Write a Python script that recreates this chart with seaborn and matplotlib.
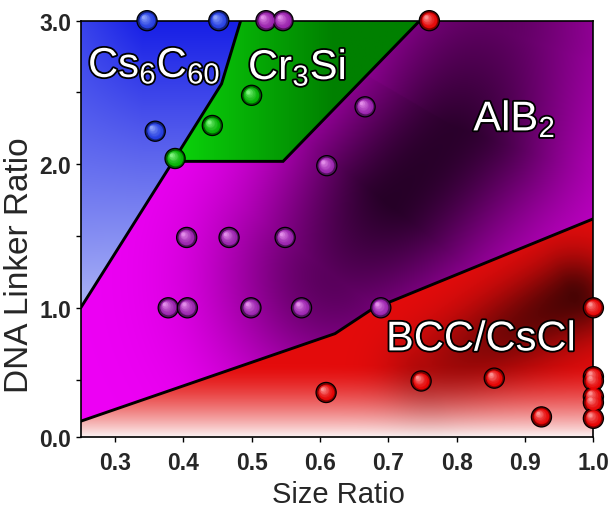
import numpy as np
import pandas as pd
import matplotlib
matplotlib.use("Agg")
import matplotlib.pyplot as plt
import seaborn as sns
from matplotlib.patches import Polygon
from matplotlib.transforms import offset_copy
import matplotlib.patheffects as pe

# ---------------- data ----------------
phases = ["Cs6C60", "Cr3Si", "AlB2", "BCC/CsCl"]

cs6c60_x = [0.347, 0.452, 0.359]
cs6c60_y = [3.0, 3.0, 2.23]
cr3si_x = [0.388, 0.4425, 0.500]
cr3si_y = [2.04, 2.27, 2.48]
alb2_x = [0.521, 0.546, 0.666, 0.610, 0.405, 0.467, 0.549, 0.378, 0.406, 0.499, 0.573, 0.689]
alb2_y = [3.0, 3.0, 2.40, 1.99, 1.49, 1.49, 1.49, 1.0, 1.0, 1.0, 1.0, 1.0]
bcc_x = [0.760, 1.0, 0.609, 0.748, 0.855, 0.924, 1.0, 1.0, 1.0, 1.0, 1.0]
bcc_y = [3.0, 1.0, 0.41, 0.49, 0.51, 0.24, 0.52, 0.49, 0.38, 0.34, 0.23]

# phase boundaries
cs_bound_x = [0.25, 0.385, 0.456, 0.484]
cs_bound_y = [1.0, 2.02, 2.56, 3.0]
cr_bound_x = [0.385, 0.546, 0.746]
cr_bound_y = [2.02, 2.02, 3.0]
bcc_bound_x = [0.25, 0.622, 0.676, 1.0]
bcc_bound_y = [0.21, 0.82, 0.99, 1.62]

x_ticks = [0.3, 0.4, 0.5, 0.6, 0.7, 0.8, 0.9, 1.0]
x_ticklabels = ["0.3", "0.4", "0.5", "0.6", "0.7", "0.8", "0.9", "1.0"]
y_ticks = [0.1, 1.0, 2.0, 3.0]
y_ticklabels = ["0.0", "1.0", "2.0", "3.0"]
y_minor = [0.5, 1.5, 2.5]
XMIN, XMAX, YMIN, YMAX = 0.25, 1.0, 0.1, 3.0

# ---------------- style ----------------
sns.set_style("ticks")
plt.rcParams['font.family'] = ['Liberation Sans', 'DejaVu Sans']
plt.rcParams['mathtext.default'] = 'regular'

fig = plt.figure(figsize=(6.13, 5.10), dpi=100)
ax = fig.add_axes([0.1317, 0.1412, 0.8363, 0.8163])
ax.set_xlim(XMIN, XMAX)
ax.set_ylim(YMIN, YMAX)

# ---------------- region gradient fills ----------------
xs = np.linspace(XMIN, XMAX, 700)
ys = np.linspace(YMIN, YMAX, 600)
X, Y = np.meshgrid(xs, ys)
U = (X - XMIN) / (XMAX - XMIN) * 512.6
V = (YMAX - Y) * 143.65


def to_uv(x, y):
    return (x - XMIN) / (XMAX - XMIN) * 512.6, (YMAX - y) * 143.65


def lerp(c1, c2, t):
    c1 = np.array(c1, float) / 255
    c2 = np.array(c2, float) / 255
    t = np.asarray(t)[..., None]
    return c1 + (c2 - c1) * t


def ridge_darkness(pts, amps, sd):
    """gaussian darkness around a shading ridge polyline (pixel-space distance)."""
    best = np.full(U.shape, np.inf)
    amp = np.zeros(U.shape)
    for (p0, p1, a0, a1) in zip(pts[:-1], pts[1:], amps[:-1], amps[1:]):
        u0, v0 = to_uv(*p0)
        u1, v1 = to_uv(*p1)
        du, dv = u1 - u0, v1 - v0
        t = np.clip(((U - u0) * du + (V - v0) * dv) / (du * du + dv * dv), 0, 1)
        dist = np.hypot(U - (u0 + t * du), V - (v0 + t * dv))
        m = dist < best
        best = np.where(m, dist, best)
        amp = np.where(m, a0 + (a1 - a0) * t, amp)
    return amp * np.exp(-0.5 * (best / sd) ** 2)


def blue_fn():
    t = np.clip((3.0 - Y) / 2.0, 0, 1)
    col = lerp((22, 30, 230), (172, 180, 246), t)
    l = np.clip((0.34 - X) / 0.09, 0, 1) * 0.35 * (1 - t)
    col = col + (np.array([120, 135, 245]) / 255 - col) * l[..., None]
    return col


def green_fn():
    t = np.clip((X - 0.40) / 0.22, 0, 1)
    return lerp((10, 208, 10), (0, 128, 0), t)


def purple_fn():
    g = ridge_darkness([(0.62, 1.22), (0.70, 1.72), (0.80, 2.25), (0.85, 2.95)],
                       [0.72, 1.0, 0.97, 0.62], 80)
    base = 238 - 35 * np.clip((X - 0.4) / 0.5, 0, 1) - 20 * np.clip((Y - 2.0) / 0.8, 0, 1)
    I = (base - (base - 38) * g) / 255
    return np.stack([I, np.zeros_like(I), np.clip(I * 1.03, 0, 1)], axis=-1)


def red_fn():
    t = np.clip((Y - 0.1) / 0.5, 0, 1)
    col = lerp((228, 12, 12), (252, 242, 242), (1 - t) ** 1.5)
    g = ridge_darkness([(0.76, 0.55), (0.88, 0.85), (0.97, 1.07)], [0.35, 0.75, 1.0], 30)
    return col * (1 - 0.68 * g)[..., None]


blue_poly = [(XMIN, YMAX)] + list(zip(cs_bound_x[::-1], cs_bound_y[::-1]))
green_poly = list(zip(cs_bound_x[1:], cs_bound_y[1:])) + [(cr_bound_x[-1], YMAX)] + \
    list(zip(cr_bound_x[::-1], cr_bound_y[::-1]))
purple_poly = list(zip(cs_bound_x[:2], cs_bound_y[:2])) + list(zip(cr_bound_x[1:], cr_bound_y[1:])) + \
    [(XMAX, YMAX)] + list(zip(bcc_bound_x[::-1], bcc_bound_y[::-1]))
red_poly = list(zip(bcc_bound_x, bcc_bound_y)) + [(XMAX, YMIN), (XMIN, YMIN)]

for poly_pts, fn in [(blue_poly, blue_fn), (green_poly, green_fn),
                     (purple_poly, purple_fn), (red_poly, red_fn)]:
    patch = Polygon(poly_pts, closed=True, facecolor='none', edgecolor='none',
                    transform=ax.transData)
    ax.add_patch(patch)
    img = np.clip(fn(), 0, 1)
    im = ax.imshow(img, origin='lower', extent=(XMIN, XMAX, YMIN, YMAX),
                   aspect='auto', interpolation='bilinear', zorder=1)
    im.set_clip_path(patch)

# boundaries
for bx, by in [(cs_bound_x, cs_bound_y), (cr_bound_x, cr_bound_y), (bcc_bound_x, bcc_bound_y)]:
    ax.plot(bx, by, color='black', lw=2.1, zorder=3, solid_joinstyle='miter')

# ---------------- spheres ----------------
df = pd.DataFrame({
    "size_ratio": cs6c60_x + cr3si_x + alb2_x + bcc_x,
    "linker_ratio": cs6c60_y + cr3si_y + alb2_y + bcc_y,
    "phase": (["Cs6C60"] * len(cs6c60_x) + ["Cr3Si"] * len(cr3si_x)
              + ["AlB2"] * len(alb2_x) + ["BCC/CsCl"] * len(bcc_x)),
})
base_cols = {"Cs6C60": (35, 60, 225), "Cr3Si": (0, 175, 0),
             "AlB2": (150, 30, 170), "BCC/CsCl": (228, 0, 0)}
hi_cols = {"Cs6C60": (160, 180, 255), "Cr3Si": (150, 255, 150),
           "AlB2": (240, 160, 245), "BCC/CsCl": (255, 170, 170)}
dark_pal = {k: tuple(np.array(v) / 255 * 0.55) for k, v in base_cols.items()}
S0 = 210
sns.scatterplot(data=df, x="size_ratio", y="linker_ratio", hue="phase",
                hue_order=phases, palette=dark_pal, s=S0, edgecolor='black',
                linewidth=0.9, legend=False, ax=ax, zorder=6, clip_on=False)
N = 10
for k in range(1, N):
    f = k / N
    tr = offset_copy(ax.transData, fig=fig, x=-3.0 * f, y=3.0 * f, units='points')
    for ph in phases:
        sub = df[df["phase"] == ph]
        col = lerp(base_cols[ph], hi_cols[ph], f ** 1.6)
        ax.scatter(sub["size_ratio"], sub["linker_ratio"], s=S0 * (0.86 - 0.78 * f) ** 2,
                   color=col, linewidths=0, transform=tr, zorder=6 + 0.01 * k, clip_on=False)

# ---------------- labels ----------------
stroke = [pe.Stroke(linewidth=2.6, foreground='black'), pe.Normal()]
label_kw = dict(color='white', fontsize=30, ha='left', va='baseline', zorder=8,
                path_effects=stroke)
ax.text(0.2607, 2.608, r"Cs$_6$C$_{60}$", **label_kw)
ax.text(0.4948, 2.592, r"Cr$_3$Si", **label_kw)
ax.text(0.8244, 2.234, r"AlB$_2$", **label_kw)
ax.text(0.6966, 0.703, "BCC/CsCl", **label_kw)

ax.set_xticks(x_ticks)
ax.set_xticklabels(x_ticklabels, fontsize=16.5, fontweight='bold')
ax.set_yticks(y_ticks)
ax.set_yticklabels(y_ticklabels, fontsize=16.5, fontweight='bold')
ax.set_yticks(y_minor, minor=True)
ax.tick_params(axis='both', which='both', direction='out', length=3.8, width=1.0, color='black')
ax.tick_params(axis='x', pad=6.5)
ax.tick_params(axis='y', pad=3)

ax.set_xlabel("Size Ratio", fontsize=21)
ax.xaxis.label.set_va('baseline')
ax.xaxis.set_label_coords(0.5025, -0.157)
ax.set_ylabel("DNA Linker Ratio", fontsize=24)
ax.yaxis.set_label_coords(-0.089, 0.4156)

for sp in ax.spines.values():
    sp.set_visible(True)
    sp.set_color('black')
    sp.set_linewidth(1.2)
    sp.set_zorder(4)

fig.savefig("out.png", dpi=100)
